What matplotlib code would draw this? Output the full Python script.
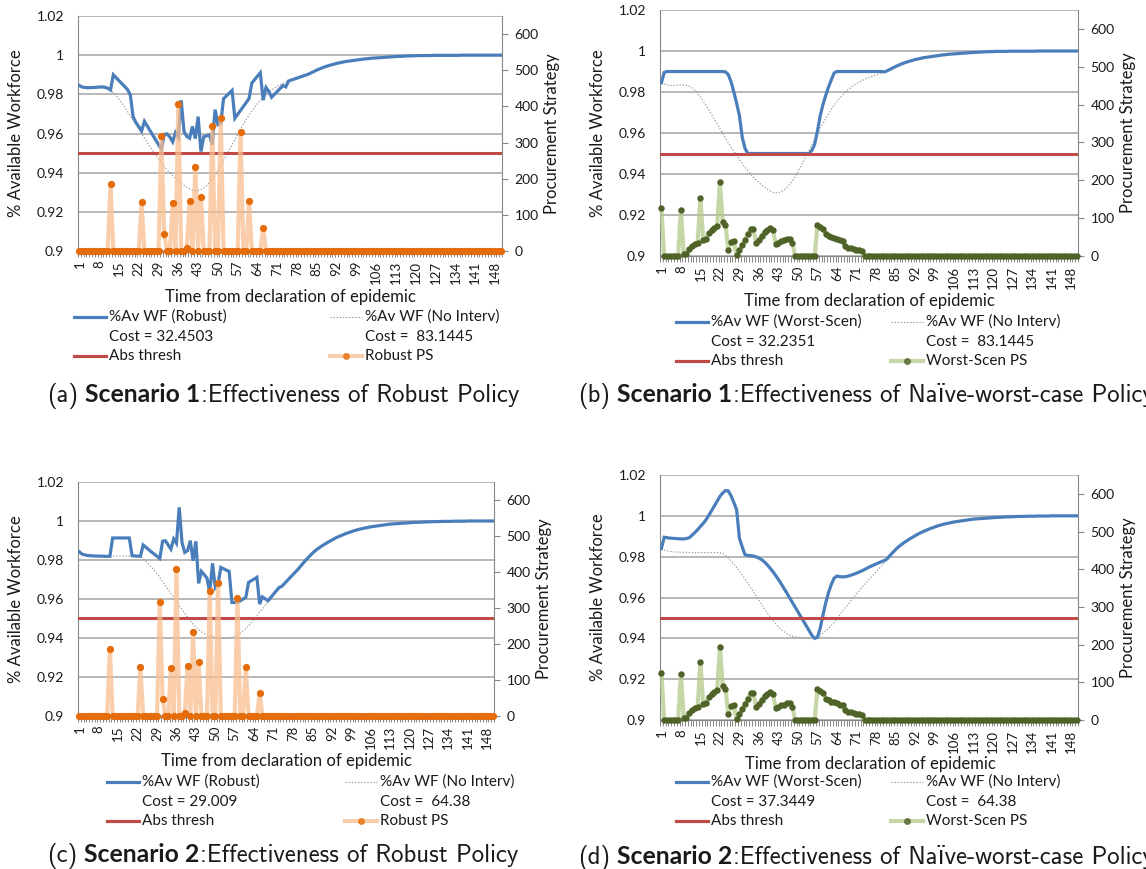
import numpy as np
import matplotlib.pyplot as plt
from matplotlib.lines import Line2D

# --- data -----------------------------------------------------------------
days = np.arange(1, 151)
tick_days = days[::7]
abs_thresh = 0.95

# % available workforce with no intervention, scenario 1 and 2
noint_s1 = [
    0.9845, 0.9838, 0.9834, 0.9832, 0.9831, 0.9832, 0.9834, 0.9835, 0.9834, 0.9832,
    0.9828, 0.9820, 0.9808, 0.9792, 0.9775, 0.9756, 0.9735, 0.9713, 0.9690, 0.9667,
    0.9644, 0.9621, 0.9598, 0.9575, 0.9553, 0.9531, 0.9510, 0.9490, 0.9470, 0.9451,
    0.9433, 0.9416, 0.9400, 0.9385, 0.9371, 0.9358, 0.9346, 0.9335, 0.9325, 0.9317,
    0.9311, 0.9308, 0.9309, 0.9314, 0.9322, 0.9334, 0.9349, 0.9367, 0.9388, 0.9411,
    0.9436, 0.9462, 0.9489, 0.9516, 0.9543, 0.9570, 0.9597, 0.9623, 0.9648, 0.9672,
    0.9694, 0.9715, 0.9735, 0.9753, 0.9770, 0.9785, 0.9799, 0.9811, 0.9822, 0.9832,
    0.9841, 0.9849, 0.9856, 0.9862, 0.9868, 0.9873, 0.9878, 0.9883, 0.9888, 0.9893,
    0.9898, 0.9903, 0.9910, 0.9917, 0.9924, 0.9930, 0.9936, 0.9941, 0.9946, 0.9950,
    0.9954, 0.9958, 0.9961, 0.9964, 0.9967, 0.9969, 0.9971, 0.9973, 0.9975, 0.9977,
    0.9979, 0.9981, 0.9982, 0.9984, 0.9985, 0.9986, 0.9987, 0.9988, 0.9989, 0.9990,
    0.9991, 0.9992, 0.9993, 0.9994, 0.9994, 0.9995, 0.9996, 0.9996, 0.9997, 0.9997,
    0.9998, 0.9998, 0.9998, 0.9998, 0.9998, 0.9999, 0.9999, 0.9999, 0.9999, 0.9999,
    0.9999, 0.9999, 0.9999, 0.9999, 0.9999, 1.0, 1.0, 1.0, 1.0, 1.0,
    1.0, 1.0, 1.0, 1.0, 1.0, 1.0, 1.0, 1.0, 1.0, 1.0,
]
noint_s2 = [
    0.9840, 0.9832, 0.9828, 0.9826, 0.9824, 0.9823, 0.9822, 0.9822, 0.9821, 0.9821,
    0.9821, 0.9820, 0.9820, 0.9820, 0.9820, 0.9820, 0.9820, 0.9820, 0.9820, 0.9820,
    0.9820, 0.9819, 0.9815, 0.9806, 0.9794, 0.9780, 0.9764, 0.9747, 0.9729, 0.9710,
    0.9690, 0.9670, 0.9649, 0.9628, 0.9607, 0.9586, 0.9565, 0.9545, 0.9525, 0.9506,
    0.9488, 0.9471, 0.9456, 0.9443, 0.9432, 0.9423, 0.9416, 0.9411, 0.9407, 0.9404,
    0.9402, 0.9401, 0.9400, 0.9400, 0.9401, 0.9404, 0.9409, 0.9416, 0.9425, 0.9436,
    0.9449, 0.9463, 0.9479, 0.9496, 0.9514, 0.9533, 0.9550, 0.9567, 0.9584, 0.9600,
    0.9617, 0.9634, 0.9650, 0.9665, 0.9680, 0.9695, 0.9710, 0.9725, 0.9740, 0.9755,
    0.9772, 0.9789, 0.9805, 0.9820, 0.9834, 0.9847, 0.9858, 0.9868, 0.9877, 0.9886,
    0.9894, 0.9902, 0.9910, 0.9917, 0.9923, 0.9929, 0.9935, 0.9940, 0.9945, 0.9950,
    0.9954, 0.9958, 0.9961, 0.9964, 0.9967, 0.9970, 0.9972, 0.9974, 0.9976, 0.9978,
    0.9980, 0.9982, 0.9984, 0.9985, 0.9986, 0.9987, 0.9988, 0.9989, 0.9990, 0.9991,
    0.9992, 0.9993, 0.9993, 0.9994, 0.9995, 0.9995, 0.9996, 0.9996, 0.9997, 0.9997,
    0.9997, 0.9998, 0.9998, 0.9998, 0.9998, 0.9999, 0.9999, 0.9999, 0.9999, 0.9999,
    1.0, 1.0, 1.0, 1.0, 1.0, 1.0, 1.0, 1.0, 1.0, 1.0,
]

# robust policy, until it rejoins the no-intervention curve
robust_s1_head = [
    0.9845, 0.9837, 0.9835, 0.9834, 0.9834, 0.9835, 0.9836, 0.9837, 0.9838, 0.9836,
    0.9831, 0.9822, 0.9900, 0.9885, 0.9870, 0.9855, 0.9840, 0.9825, 0.9798, 0.9685,
    0.9656, 0.9635, 0.9613, 0.9662, 0.9638, 0.9614, 0.9590, 0.9566, 0.9543, 0.9520,
    0.9595, 0.9598, 0.9582, 0.9558, 0.9605, 0.9582, 0.9770, 0.9610, 0.9585, 0.9576,
    0.9636, 0.9574, 0.9686, 0.9508, 0.9584, 0.9588, 0.9593, 0.9542, 0.9722, 0.9645,
    0.9652, 0.9778, 0.9792, 0.9806, 0.9820, 0.9678, 0.9698, 0.9718, 0.9738, 0.9758,
    0.9778, 0.9858, 0.9875, 0.9893, 0.9910, 0.9770, 0.9835, 0.9815, 0.9785, 0.9800,
    0.9815, 0.9830, 0.9845, 0.9838,
]
robust_s2_head = [
    0.9842, 0.9830, 0.9826, 0.9823, 0.9822, 0.9821, 0.9820, 0.9820, 0.9820, 0.9819,
    0.9819, 0.9819, 0.9913, 0.9913, 0.9913, 0.9913, 0.9913, 0.9913, 0.9913, 0.9822,
    0.9821, 0.9820, 0.9819, 0.9877, 0.9865, 0.9853, 0.9841, 0.9830, 0.9819, 0.9808,
    0.9896, 0.9899, 0.9878, 0.9856, 0.9908, 0.9886, 1.0070, 0.9890, 0.9839, 0.9848,
    0.9899, 0.9796, 0.9896, 0.9680, 0.9742, 0.9725, 0.9707, 0.9634, 0.9783, 0.9659,
    0.9676, 0.9762, 0.9755, 0.9748, 0.9742, 0.9582, 0.9582, 0.9582, 0.9591, 0.9600,
    0.9608, 0.9685, 0.9694, 0.9702, 0.9711, 0.9574, 0.9611, 0.9601, 0.9591, 0.9608,
    0.9625, 0.9642, 0.9659,
]

# naive worst-case policy
worst_s1_head = (
    [0.9845, 0.9895] + [0.9900] * 21 +
    [0.9898, 0.9885, 0.9850, 0.9800, 0.9745, 0.9685, 0.9580, 0.9525] +
    [0.9500] * 23 +
    [0.9515, 0.9545, 0.9610, 0.9685, 0.9740, 0.9785, 0.9825, 0.9860, 0.9893] +
    [0.9900] * 17
)
worst_s2_head = [
    0.9840, 0.9895, 0.9893, 0.9891, 0.9890, 0.9889, 0.9888, 0.9887, 0.9887, 0.9889,
    0.9893, 0.9905, 0.9918, 0.9932, 0.9948, 0.9963, 0.9980, 1.0002, 1.0025, 1.0048,
    1.0072, 1.0095, 1.0112, 1.0124, 1.0122, 1.0098, 1.0065, 1.0030, 0.9890, 0.9848,
    0.9810, 0.9806, 0.9805, 0.9803, 0.9799, 0.9793, 0.9785, 0.9774, 0.9760, 0.9744,
    0.9727, 0.9708, 0.9688, 0.9667, 0.9645, 0.9622, 0.9599, 0.9576, 0.9553, 0.9530,
    0.9507, 0.9484, 0.9461, 0.9438, 0.9415, 0.9400, 0.9405, 0.9450, 0.9515, 0.9575,
    0.9625, 0.9665, 0.9695, 0.9705, 0.9702, 0.9701, 0.9702, 0.9705, 0.9709, 0.9714,
    0.9719, 0.9725, 0.9731, 0.9738, 0.9745, 0.9752, 0.9758, 0.9764, 0.9770, 0.9776,
    0.9781,
]

robust_s1 = robust_s1_head + noint_s1[len(robust_s1_head):]
robust_s2 = robust_s2_head + noint_s2[len(robust_s2_head):]
worst_s1 = worst_s1_head + noint_s1[len(worst_s1_head):]
worst_s2 = worst_s2_head + noint_s2[len(worst_s2_head):]

# procurement strategies (same plan used in both scenarios)
robust_ps_days = [12, 23, 30, 31, 34, 36, 39, 40, 42, 44, 48, 51, 58, 61, 66]
robust_ps_vals = [185, 135, 317, 47, 132, 407, 8, 139, 232, 150, 346, 369, 328, 137, 63]
robust_ps = np.zeros(150)
robust_ps[np.array(robust_ps_days) - 1] = robust_ps_vals

worst_ps = (
    [126] + [0] * 6 +
    [122, 5, 6, 19, 27, 32, 35, 154, 42, 46, 61, 68, 73, 79, 195, 90, 83, 17, 37, 39,
     2, 15, 28, 43, 57, 71, 71, 34, 43, 53, 64, 68, 75, 68, 33, 35, 39, 41, 44, 46, 35] +
    [0] * 8 +
    [81, 77, 72, 57, 53, 49, 47, 44, 41, 39, 26, 22, 20, 18, 17, 17, 14] +
    [0] * 77
)

cost_robust = ["32.4503", "29.009"]
cost_worst = ["32.2351", "37.3449"]
cost_noint = ["83.1445", "64.38"]

wf_ticks = [0.9, 0.92, 0.94, 0.96, 0.98, 1.0, 1.02]
wf_tick_labels = ["0.9", "0.92", "0.94", "0.96", "0.98", "1", "1.02"]
ps_ticks = [0, 100, 200, 300, 400, 500, 600]

# --- style ----------------------------------------------------------------
W, H = 1146, 869
BLUE = "#4A7EBB"
RED = "#BE4B48"
NOINT = "#959595"
GRID = "#ABABAB"
AXIS = "#868686"
TXT = "#1A1A1A"
OR_LINE, OR_MARK = "#F9BE8E", "#E46C0A"
GR_LINE, GR_MARK = "#B3C98A", "#4F6228"
FONT = "Lato"
CAP_FONT = ["cmss10", "DejaVu Sans"]
CAP_FS = 17.8

plt.rcParams["font.family"] = [FONT, "DejaVu Sans"]
plt.rcParams["text.color"] = TXT

fig = plt.figure(figsize=(W / 100, H / 100), dpi=100)


def fx(x):
    return x / W


def fy(y):
    return 1 - y / H


def draw_panel(box, wf, noint, ps, ps_cols, ps_ms):
    left, top, right, bottom = box
    ax = fig.add_axes([fx(left), fy(bottom), (right - left) / W, (bottom - top) / H])
    ax.set_xlim(0.5, 150.5)
    ax.set_ylim(0.9, 1.02)
    ax.set_yticks(wf_ticks)
    ax.set_yticklabels(wf_tick_labels)
    ax.grid(axis="y", color=GRID, lw=1.2)
    ax.set_axisbelow(True)
    ax.set_xticks(tick_days)
    ax.set_xticklabels([str(d) for d in tick_days], rotation=90)
    ax.set_xticks(np.arange(0.5, 151, 1), minor=True)
    ax.tick_params(axis="x", which="major", length=0, pad=7, labelsize=9.5, labelcolor=TXT)
    ax.tick_params(axis="x", which="minor", length=4, width=0.7, color=AXIS)
    ax.tick_params(axis="y", length=0, pad=10, labelsize=10, labelcolor=TXT)
    for s in ("top", "right"):
        ax.spines[s].set_visible(False)
    for s in ("left", "bottom"):
        ax.spines[s].set_color(AXIS)

    ax.plot(days, wf, color=BLUE, lw=2.3, zorder=3, solid_joinstyle="miter")
    ax.plot(days, noint, color=NOINT, lw=0.8, ls=(0, (1.2, 1.6)), zorder=2)
    ax.plot(days, [abs_thresh] * len(days), color=RED, lw=2.2, zorder=4)

    ax2 = ax.twinx()
    ax2.set_ylim(0, 650)
    ax2.set_yticks(ps_ticks)
    ax2.tick_params(axis="y", length=4, width=0.8, color=AXIS, pad=5,
                    labelsize=10, labelcolor=TXT)
    for s in ("top", "left", "bottom"):
        ax2.spines[s].set_visible(False)
    ax2.spines["right"].set_color(AXIS)
    ax2.plot(days, ps, color=ps_cols[0], lw=3.0, alpha=0.75, zorder=2)
    ax2.plot(days, ps, ls="none", marker="o", ms=ps_ms, color=ps_cols[1],
             zorder=3, clip_on=False)

    cy = (top + bottom) / 2
    fig.text(fx(left - 62), fy(cy), "% Available Workforce", rotation=90,
             ha="center", va="center", fontsize=12)
    fig.text(fx(right + 50), fy(cy), "Procurement Strategy", rotation=90,
             ha="center", va="center", fontsize=12)


def draw_legend(x0, y0, wf_name, wf_cost, noint_cost, ps_name, ps_cols, col2):
    hw = 32
    rows = [y0, y0 + 20, y0 + 39]

    def handle(x, y, **kw):
        fig.add_artist(Line2D([fx(x), fx(x + hw / 2), fx(x + hw)], [fy(y)] * 3,
                              transform=fig.transFigure, **kw))

    handle(x0, rows[0], color=BLUE, lw=2.3)
    handle(x0, rows[2], color=RED, lw=2.3)
    handle(col2, rows[0], color=NOINT, lw=0.8, ls=(0, (1.2, 1.6)))
    handle(col2, rows[2], color=ps_cols[0], lw=3.0, alpha=0.75,
           marker="o", ms=4, mfc=ps_cols[1], mec=ps_cols[1], markevery=[1])
    kw = dict(fontsize=11, va="center", ha="left")
    fig.text(fx(x0 + hw + 3), fy(rows[0]), wf_name, **kw)
    fig.text(fx(x0 + hw + 3), fy(rows[1]), "Cost = " + wf_cost, **kw)
    fig.text(fx(x0 + hw + 3), fy(rows[2]), "Abs thresh", **kw)
    fig.text(fx(col2 + hw + 3), fy(rows[0]), "%Av WF (No Interv)", **kw)
    fig.text(fx(col2 + hw + 3), fy(rows[1]), "Cost =  " + noint_cost, **kw)
    fig.text(fx(col2 + hw + 3), fy(rows[2]), ps_name, **kw)


def draw_caption(x, y, tag, bold, rest):
    r = fig.canvas.get_renderer()
    t = fig.text(fx(x), fy(y), tag, fontfamily=CAP_FONT, fontsize=CAP_FS, va="baseline")
    x += t.get_window_extent(r).width + 7
    t = fig.text(fx(x), fy(y), bold, fontfamily=["Lato", "DejaVu Sans"],
                 fontweight="bold", fontsize=CAP_FS, va="baseline")
    x += t.get_window_extent(r).width + 1
    fig.text(fx(x), fy(y), rest, fontfamily=CAP_FONT, fontsize=CAP_FS, va="baseline")


panels = [
    # box (left, top, right, bottom), wf, noint, ps, colours, legend, xlabel, caption
    dict(box=(78, 16, 502, 251), wf=robust_s1, noint=noint_s1, ps=robust_ps,
         cols=(OR_LINE, OR_MARK), ms=4.2, wf_name="%Av WF (Robust)", cost=cost_robust[0],
         ncost=cost_noint[0], ps_name="Robust PS", leg=(74, 317, 330),
         xl=(290, 297), cap=(47, 402, "(a)", "Scenario 1",
                              ":Effectiveness of Robust Policy")),
    dict(box=(660, 10, 1078, 256), wf=worst_s1, noint=noint_s1, ps=worst_ps,
         cols=(GR_LINE, GR_MARK), ms=3.6, wf_name="%Av WF (Worst-Scen)", cost=cost_worst[0],
         ncost=cost_noint[0], ps_name="Worst-Scen PS", leg=(676, 322, 891),
         xl=(869, 301), cap=(578, 402, "(b)", "Scenario 1",
                              ":Effectiveness of Na\u00efve-worst-case Policy")),
    dict(box=(78, 482, 494, 716), wf=robust_s2, noint=noint_s2, ps=robust_ps,
         cols=(OR_LINE, OR_MARK), ms=4.2, wf_name="%Av WF (Robust)", cost=cost_robust[1],
         ncost=cost_noint[1], ps_name="Robust PS", leg=(107, 782, 345),
         xl=(286, 761), cap=(47, 862, "(c)", "Scenario 2",
                              ":Effectiveness of Robust Policy")),
    dict(box=(660, 475, 1078, 720), wf=worst_s2, noint=noint_s2, ps=worst_ps,
         cols=(GR_LINE, GR_MARK), ms=3.6, wf_name="%Av WF (Worst-Scen)", cost=cost_worst[1],
         ncost=cost_noint[1], ps_name="Worst-Scen PS", leg=(676, 782, 891),
         xl=(870, 764), cap=(578, 864, "(d)", "Scenario 2",
                              ":Effectiveness of Na\u00efve-worst-case Policy")),
]

for p in panels:
    draw_panel(p["box"], p["wf"], p["noint"], p["ps"], p["cols"], p["ms"])
    fig.text(fx(p["xl"][0]), fy(p["xl"][1]), "Time from declaration of epidemic",
             ha="center", va="center", fontsize=12)
    lx, ly, c2 = p["leg"]
    draw_legend(lx, ly, p["wf_name"], p["cost"], p["ncost"], p["ps_name"], p["cols"], c2)
    draw_caption(*p["cap"])

fig.savefig("out.png", dpi=100)
